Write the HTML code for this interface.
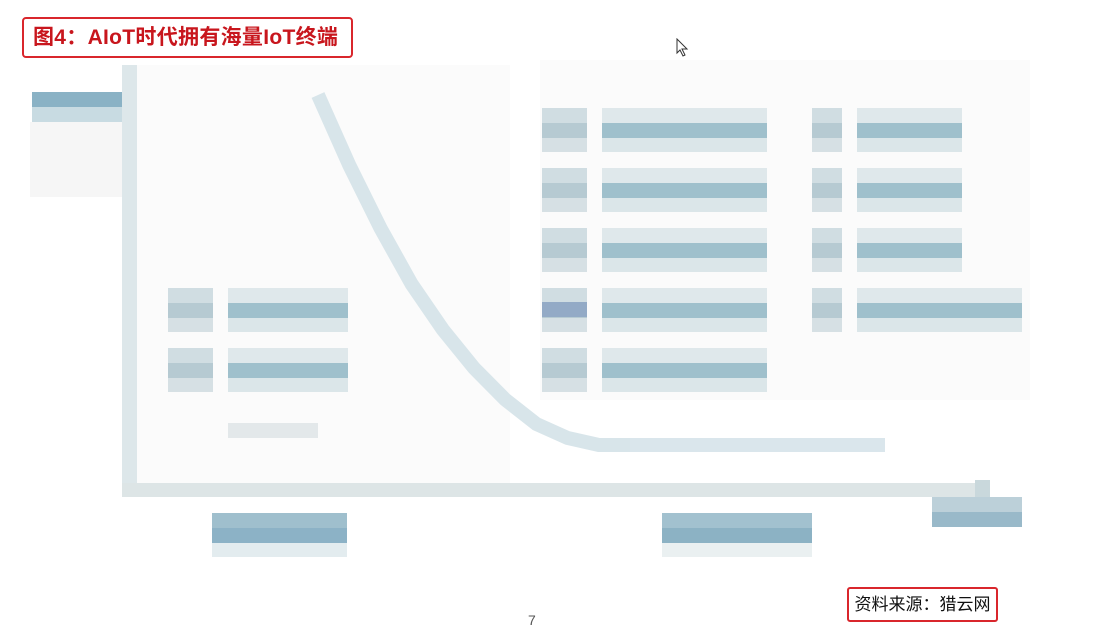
<!DOCTYPE html>
<html><head><meta charset="utf-8"><style>
body{margin:0;width:1119px;height:624px;background:#fff;position:relative;overflow:hidden;font-family:"Liberation Sans","Noto Sans CJK SC",sans-serif}
.r{position:absolute}
#title{position:absolute;left:22px;top:17px;width:318px;height:37px;border:2px solid #d9262c;border-radius:4px;color:#c8161d;font-weight:bold;font-size:21px;line-height:37px;padding-left:9px;box-sizing:content-box;letter-spacing:0.3px}
#src{position:absolute;left:847px;top:587px;width:147px;height:31px;border:2px solid #d9262c;border-radius:3px;font-size:17px;line-height:31px;text-align:center;color:#111}
</style></head><body>
<div id="title">图4：AIoT时代拥有海量IoT终端</div>
<div id="src">资料来源：猎云网</div>
<div class="r" style="left:528px;top:612px;font-size:14px;color:#555">7</div>
<svg class="r" style="left:676px;top:38px" width="14" height="20"><path d="M1 1 L1 15 L4 12 L7 18 L9 17 L6 11 L11 11 Z" fill="#fff" stroke="#333"/></svg>
<svg id="chart" class="r" style="left:0;top:0" width="1119" height="624"></svg>
<script>
const curveX=[0,1,2,3,4,5,6,7,8,9,10];
const curveY=[100,80,62,46,33,22,13,6,2,0,0];
const rowLabels=['r1','r2','r3','r4','r5'];
const svg=document.getElementById('chart');
const NS='http://www.w3.org/2000/svg';
function rect(x,y,w,h,c,name){const e=document.createElementNS(NS,'rect');e.setAttribute('x',x);e.setAttribute('y',y);e.setAttribute('width',w);e.setAttribute('height',h);e.setAttribute('fill',c);


svg.appendChild(e);}
rect(30,122,92,75,'#f6f6f6','background-blur');
rect(137,65,373,420,'#fbfbfb','background-blur-inner');
rect(540,60,490,340,'#fbfbfb','background-blur-right');
rect(122,65,15,430,'#dde7ea','y-axis');
rect(122,483,868,14,'#dde5e6','x-axis');
rect(975,480,15,20,'#c9d8dc','x-axis-arrow');
rect(32,92,90,15,'#8ab2c5','y-axis-title');
rect(32,107,90,15,'#c8dbe2','y-axis-title-lower');
const sx=v=>318+v*31.2, sy=v=>445-v*3.5;
const pl=document.createElementNS(NS,'polyline');
pl.setAttribute('points',curveX.map((v,i)=>sx(v)+','+sy(curveY[i])).join(' '));
pl.setAttribute('fill','none');pl.setAttribute('stroke','#d8e5ea');pl.setAttribute('stroke-width','14');


svg.appendChild(pl);
rect(630,438,255,14,'#dae6ec','curve-tail');
function label(x,y,iw,tw,name){
 rect(x,y,iw,15,'#d0dde2',name+'-icon-top');
 rect(x,y+15,iw,15,'#b6cad2',name+'-icon');
 rect(x,y+30,iw,14,'#d6e0e4',name+'-icon-bottom');
 rect(x+iw+15,y,tw,15,'#dfe8eb',name+'-text-top');
 rect(x+iw+15,y+15,tw,15,'#9fc0cc',name+'-text');
 rect(x+iw+15,y+30,tw,14,'#dbe6e9',name+'-text-bottom');
}
label(168,288,45,120,'left-label-1');
label(168,348,45,120,'left-label-2');
rect(228,423,90,15,'#e3e8ea','left-small-label');
rowLabels.forEach((n,i)=>label(542,108+i*60,45,165,'mid-label-'+n));
rect(542,302,45,15,'#93aac6','mid-label-r4-icon-accent');
rowLabels.slice(0,4).forEach((n,i)=>label(812,108+i*60,30,i==3?165:105,'right-label-'+n));
rect(212,513,135,15,'#9fbfcd','x-label-left-top');rect(212,528,135,15,'#8cb2c6','x-label-left');rect(212,543,135,14,'#e3ecef','x-label-left-bottom');
rect(662,513,150,15,'#a2c1cf','x-label-mid-top');rect(662,528,150,15,'#8cb2c4','x-label-mid');rect(662,543,150,14,'#eaf0f1','x-label-mid-bottom');
rect(932,497,90,15,'#bcd0d9','x-axis-title-top');rect(932,512,90,15,'#99b9c9','x-axis-title');
</script>
</body></html>
